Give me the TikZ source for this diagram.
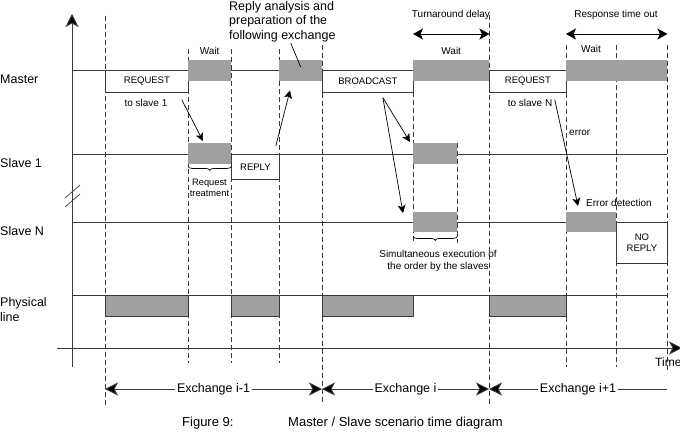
\documentclass[tikz,border=0pt]{standalone}
\usepackage{fontspec}
\setmainfont{Liberation Sans}
\usetikzlibrary{arrows.meta, calc, decorations.pathreplacing}
\definecolor{slotgray}{HTML}{A0A0A0}
\definecolor{linegray}{HTML}{3A3A3A}

\begin{document}
\begin{tikzpicture}[
  x=1pt, y=-1pt,
  busy/.style={fill=slotgray, inner sep=0pt, anchor=north west},
  busyline/.style={busy, draw=linegray, line width=0.8pt},
  msgbox/.style={draw=linegray, fill=white, inner sep=0pt, anchor=north west,
    line width=0.8pt, align=center, font=\fontsize{9.5}{11}\selectfont},
  rowlbl/.style={anchor=west, align=left, inner sep=0pt, font=\fontsize{12.5}{15}\selectfont},
  small/.style={inner sep=0pt, align=center, font=\fontsize{10}{12}\selectfont},
  guide/.style={draw=linegray, line width=0.7pt, dash pattern=on 5pt off 3pt},
  rowline/.style={draw=linegray, line width=0.8pt},
  arr/.style={-{Stealth[length=8pt, width=8pt, inset=2pt]}, line width=0.7pt},
  dtip/.tip={Stealth[length=10pt, width=11pt, inset=2.5pt, fill=black]},
  darr/.style={dtip-dtip, line width=0.8pt},
  xtip/.tip={Stealth[length=13pt, width=13pt, inset=3.5pt, fill=black]},
  xarr/.style={xtip-xtip, line width=0.8pt, draw=linegray},
  axisarr/.style={-{Stealth[length=13pt, width=13pt, inset=3.5pt, fill=black]}, line width=0.9pt, draw=linegray},
  brc/.style={decorate, decoration={brace, mirror, amplitude=4pt}, line width=0.7pt}
]
  \useasboundingbox (0,0) rectangle (680,441);

  %% Axes
  \draw[axisarr] (72,367) -- (72,14);
  \draw[axisarr] (57,348) -- (682,348);
  \draw[linegray, line width=0.7pt] (65,198) -- (80,185) (65,207) -- (80,194);
  \node[small, anchor=north west, font=\fontsize{12}{14}\selectfont] (time) at (655,358) {Time};

  %% Time marks
  \foreach \x/\a/\b in {105/16/405, 188/49/363, 231/49/363, 279/49/363, 322/45/405,
    413/92/243, 457/143/243, 489/15/405, 566/45/367, 616/45/367, 667/45/373}
    \draw[guide] (\x,\a) -- (\x,\b);

  %% Rows
  \node[rowlbl] (lmaster) at (0,79) {Master};
  \node[rowlbl] (lslave1) at (0,163) {Slave 1};
  \node[rowlbl] (lslaven) at (0,231) {Slave N};
  \node[rowlbl] (lphys) at (0,310) {Physical\\line};
  \foreach \y in {70, 154, 222, 295}
    \draw[rowline] (72,\y) -- (667,\y);

  %% Master
  \node[msgbox, minimum width=83pt, minimum height=22pt] (req1) at (105,70) {REQUEST};
  \node[busy, minimum width=43pt, minimum height=21pt] (wait1) at (188,60) {};
  \node[busy, minimum width=43pt, minimum height=21pt] (prep) at (279,60) {};
  \node[msgbox, minimum width=91pt, minimum height=22pt] (bcast) at (322,70) {BROADCAST};
  \node[busy, minimum width=76pt, minimum height=21pt] (wait2) at (413,60) {};
  \node[msgbox, minimum width=77pt, minimum height=22pt] (reqN) at (489,70) {REQUEST};
  \node[busy, minimum width=101pt, minimum height=21pt] (wait3) at (566,60) {};
  \node[small, above=5pt] at (wait1.north) {Wait};
  \node[small, above=5pt] at (wait2.north) {Wait};
  \node[small] at (591,49) {Wait};

  %% Slave 1
  \node[busy, minimum width=43pt, minimum height=21pt] (treat1) at (188,143) {};
  \node[msgbox, minimum width=48pt, minimum height=25pt] (reply) at (231,154) {REPLY};
  \node[busy, minimum width=44pt, minimum height=21pt] (exec1) at (413,143) {};

  %% Slave N
  \node[busy, minimum width=44pt, minimum height=20pt] (exec2) at (413,212) {};
  \node[busy, minimum width=50pt, minimum height=20pt] (errdet) at (566,212) {};
  \node[msgbox, minimum width=51pt, minimum height=41pt] (noreply) at (616,222) {NO\\REPLY};

  %% Physical line
  \node[busyline, minimum width=83pt, minimum height=21pt] (phy1) at (105,295) {};
  \node[busyline, minimum width=48pt, minimum height=21pt] (phy2) at (231,295) {};
  \node[busyline, minimum width=91pt, minimum height=21pt] (phy3) at (322,295) {};
  \node[busyline, minimum width=77pt, minimum height=21pt] (phy4) at (489,295) {};

  %% Notes and arrows
  \node[small] (to1) at (146,103) {to slave 1};
  \draw[arr] ($(req1.south east)+(-7,7)$) -- ($(treat1.north west)+(15,-2)$);
  \draw[arr] ($(reply.north east)+(-4,-8)$) -- ($(prep.south west)+(11,9)$);
  \node[anchor=north west, align=left, inner sep=0pt, font=\fontsize{12.5}{14.5}\selectfont]
    (prepnote) at (229,1) {Reply analysis and\\preparation of the\\following exchange};
  \draw[line width=0.7pt] ($(prep.north)+(-10,-17)$) -- ($(prep.north)+(0,7)$);
  \draw[brc] ($(treat1.south west)+(0,2)$) -- ($(treat1.south east)+(0,2)$);
  \node[small, font=\fontsize{9.3}{10.5}\selectfont] (treatlbl) at (209.5,188) {Request\\treatment};

  \draw[arr] ($(bcast.south)+(15,5)$) -- ($(exec1.north west)+(-3,-1)$);
  \draw[arr] ($(bcast.south)+(15,5)$) -- ($(exec2.north west)+(-10,1)$);
  \draw[brc] ($(exec2.south west)+(0,4)$) -- ($(exec2.south east)+(0,4)$);
  \node[small, font=\fontsize{10}{12}\selectfont] (simlbl) at (438,261)
    {Simultaneous execution of\\the order by the slaves};

  \node[small] (toN) at (530,103) {to slave N};
  \draw[arr] ($(reqN.south east)+(-12,7)$) -- ($(errdet.north west)+(12,-6)$);
  \node[small, anchor=west] (err) at (569,133) {error};
  \node[small, anchor=west] (errlbl) at (586,203) {Error detection};

  %% Delays
  \draw[darr] ([yshift=26pt]wait2.north west) -- ([yshift=26pt]wait2.north east);
  \node[small] (turn) at (451,15) {Turnaround delay};
  \draw[darr] ([yshift=26pt]wait3.north west) -- ([yshift=26pt]wait3.north east);
  \node[small] (resp) at (616,15) {Response time out};

  %% Exchanges
  \coordinate (x0) at (105,389);
  \coordinate (x1) at (322,389);
  \coordinate (x2) at (489,389);
  \coordinate (x3) at (667,389);
  \draw[xarr] (x0) -- node[fill=white, inner sep=2pt, font=\fontsize{12.5}{14}\selectfont] {Exchange i-1} (x1);
  \draw[xarr] (x1) -- node[fill=white, inner sep=2pt, font=\fontsize{12.5}{14}\selectfont] {Exchange i} (x2);
  \draw[xarr, xtip-] (x2) -- node[fill=white, inner sep=2pt, font=\fontsize{12.5}{14}\selectfont] {Exchange i+1} (x3);

  %% Caption
  \node[anchor=west, inner sep=0pt, font=\fontsize{13}{15}\selectfont] (fig) at (182,423) {Figure 9:};
  \node[anchor=west, inner sep=0pt, font=\fontsize{13}{15}\selectfont] (cap) at (288,423) {Master / Slave scenario time diagram};
\end{tikzpicture}
\end{document}
